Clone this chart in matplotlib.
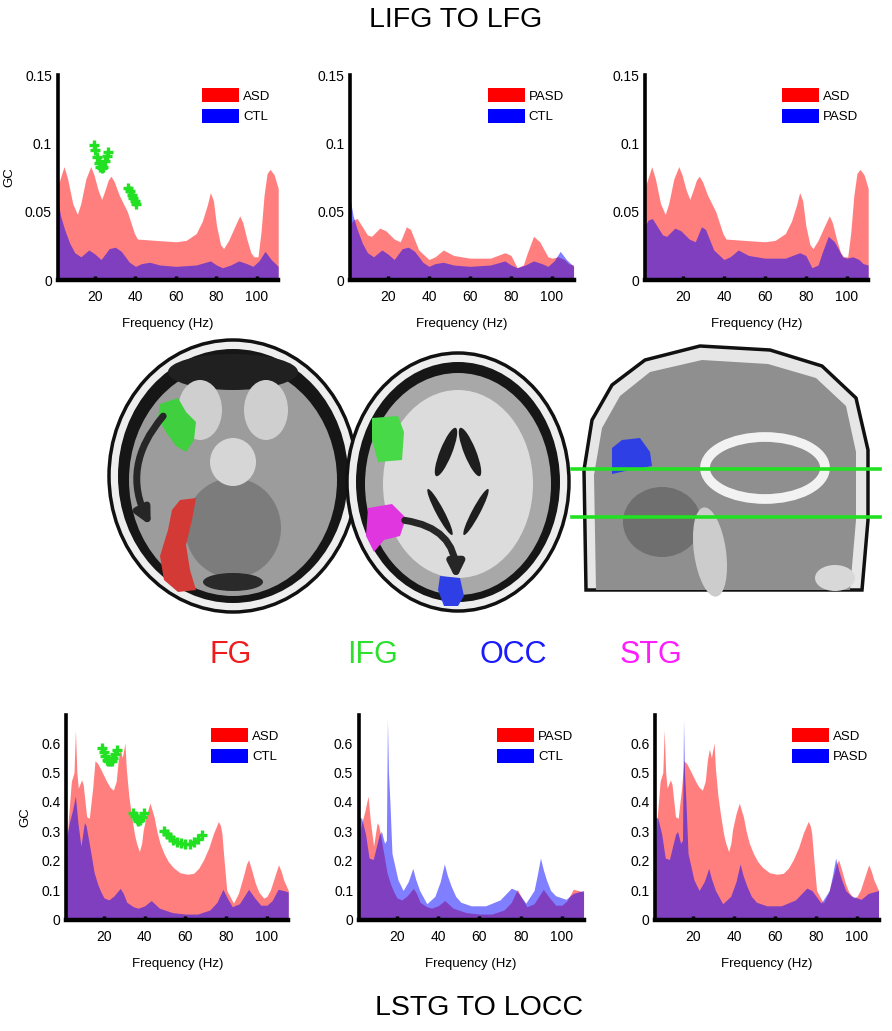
import matplotlib
matplotlib.use('Agg')
import matplotlib.pyplot as plt
from matplotlib.patches import Patch, Ellipse, Polygon, FancyArrowPatch

plt.rcParams['font.family'] = ['Liberation Sans', 'DejaVu Sans']

# ---- LIFG -> LFG (top row) ----
ifg_asd_f = [1.5, 4.7, 6.5, 9, 11.3, 13, 15.5, 17.9, 19.5, 21.5, 23.3, 25, 26.5, 27.9, 29.5, 32, 36, 39.5,
             41, 50, 60, 65, 70, 73, 75.5, 77, 78.5, 80, 82, 83.5, 86, 89, 91.5, 93, 95, 97, 98.5, 100.5,
             102, 103.5, 105, 106.5, 108.5, 110.5]
ifg_asd = [0.068, 0.083, 0.074, 0.056, 0.048, 0.056, 0.074, 0.083, 0.077, 0.066, 0.059, 0.066, 0.073, 0.076,
           0.072, 0.062, 0.050, 0.034, 0.030, 0.029, 0.028, 0.029, 0.034, 0.043, 0.055, 0.064, 0.058, 0.040,
           0.026, 0.023, 0.029, 0.039, 0.047, 0.042, 0.030, 0.020, 0.017, 0.017, 0.035, 0.062, 0.078, 0.081,
           0.077, 0.067]

ifg_ctl_f = [1.5, 3, 5, 7.5, 10, 13, 17, 20, 23, 27, 30, 33, 37, 40, 43, 47, 52, 60, 70, 77,
             80, 83, 87, 91, 95, 98, 101, 104, 107, 110.5]
ifg_ctl = [0.060, 0.047, 0.037, 0.027, 0.020, 0.017, 0.022, 0.019, 0.015, 0.023, 0.024, 0.021, 0.013, 0.010,
           0.012, 0.013, 0.011, 0.010, 0.011, 0.014, 0.011, 0.009, 0.011, 0.014, 0.012, 0.010, 0.014, 0.021,
           0.015, 0.010]

ifg_pasd_f = [1.5, 3, 5, 7.5, 10, 12, 16, 19, 23, 26, 29, 31, 35, 40, 43, 47, 52, 60, 70, 77,
              80, 83, 86, 88, 91, 94, 98, 100, 103, 106, 108, 110.5]
ifg_pasd = [0.040, 0.044, 0.045, 0.039, 0.033, 0.032, 0.038, 0.036, 0.030, 0.028, 0.039, 0.037, 0.022, 0.015,
            0.017, 0.022, 0.018, 0.016, 0.016, 0.020, 0.018, 0.009, 0.011, 0.020, 0.032, 0.028, 0.017, 0.016,
            0.017, 0.015, 0.012, 0.011]

ifg_sig_f = [19.5, 20.2, 21, 21.8, 22.6, 23.4, 24.2, 25, 25.8, 26.6, 36.5, 37.3, 38.1, 38.9, 39.7, 40.5]
ifg_sig = [0.099, 0.095, 0.090, 0.086, 0.083, 0.082, 0.083, 0.087, 0.091, 0.094,
           0.067, 0.065, 0.062, 0.060, 0.058, 0.056]

# ---- LSTG -> LOCC (bottom row) ----
stg_asd_f = [1.5, 2.5, 4, 5.3, 6, 6.7, 7.4, 9, 9.8, 11.5, 12.8, 14.5, 15.6, 17, 18.5, 21.3, 23, 24.6, 26, 27,
             28, 29, 30.3, 31, 32.2, 33.6, 35, 36, 37.4, 38.5, 39.3, 41, 42.6, 44.6, 46, 47.5, 49.5, 51.6,
             54, 57.4, 61, 64, 66.5, 68.9, 71.5, 73.8, 76.2, 77.2, 77.9, 79, 80.3, 83.6, 86, 88.5, 90, 91,
             92.5, 94.3, 96, 98.4, 100, 101.6, 103.5, 105.7, 107, 108.2, 110.5]
stg_asd = [0.20, 0.34, 0.47, 0.50, 0.645, 0.50, 0.447, 0.475, 0.46, 0.35, 0.345, 0.45, 0.54, 0.53, 0.51, 0.47,
           0.45, 0.44, 0.47, 0.54, 0.58, 0.55, 0.60, 0.51, 0.42, 0.35, 0.29, 0.26, 0.232, 0.26, 0.306, 0.36,
           0.396, 0.35, 0.30, 0.26, 0.225, 0.198, 0.178, 0.16, 0.155, 0.158, 0.175, 0.204, 0.245, 0.294,
           0.334, 0.32, 0.294, 0.20, 0.10, 0.057, 0.09, 0.15, 0.19, 0.204, 0.17, 0.125, 0.095, 0.074, 0.08,
           0.10, 0.14, 0.187, 0.165, 0.136, 0.10]

stg_ctl_f = [1.5, 3, 4.5, 6, 7.2, 8.7, 10.4, 11.2, 12.5, 14, 15.2, 17, 18.5, 20, 22.4, 25, 26.5, 28, 29.5, 31.2,
             34.4, 36.8, 40, 43.2, 47.2, 53.6, 60, 66, 72, 75.5, 78.4, 80.5, 83, 86.5, 91, 94, 97, 100,
             102.5, 105.5, 108, 110.5]
stg_ctl = [0.28, 0.33, 0.37, 0.42, 0.33, 0.25, 0.33, 0.32, 0.27, 0.21, 0.16, 0.12, 0.095, 0.075, 0.068, 0.082,
           0.095, 0.107, 0.09, 0.060, 0.045, 0.040, 0.048, 0.066, 0.040, 0.025, 0.020, 0.020, 0.034, 0.060,
           0.104, 0.075, 0.045, 0.055, 0.104, 0.075, 0.050, 0.050, 0.065, 0.104, 0.10, 0.095]

stg_pasd_f = [1.5, 2.9, 4.8, 6.5, 8.5, 11.5, 12.5, 14, 14.9, 15.4, 15.9, 16.6, 17.6, 20.5, 23, 25.5, 27.7, 29,
              31, 34.5, 38.4, 41, 43, 44.5, 46.4, 48.5, 51, 56, 63, 70, 75.5, 78, 82.5, 86.5, 88, 89.6, 91,
              92.5, 94.5, 97, 102, 105.5, 110.5]
stg_pasd = [0.35, 0.345, 0.29, 0.21, 0.205, 0.29, 0.30, 0.26, 0.27, 0.68, 0.50, 0.40, 0.226, 0.136, 0.10,
            0.13, 0.175, 0.14, 0.10, 0.055, 0.08, 0.13, 0.19, 0.15, 0.113, 0.08, 0.06, 0.048, 0.048, 0.068,
            0.108, 0.10, 0.057, 0.10, 0.15, 0.21, 0.17, 0.136, 0.10, 0.082, 0.07, 0.09, 0.10]

stg_sig_f = [18.9, 19.8, 20.6, 21.3, 22.1, 23, 23.8, 24.6, 25.4, 26.2, 34.4, 35.2, 36.1, 36.9, 37.8, 38.7,
             39.7, 49.5, 51, 52.5, 54, 56, 58, 59.8, 62, 64, 66, 68]
stg_sig = [0.583, 0.57, 0.556, 0.544, 0.54, 0.538, 0.538, 0.548, 0.562, 0.578, 0.362, 0.352, 0.342, 0.334,
           0.34, 0.35, 0.362, 0.30, 0.29, 0.28, 0.272, 0.265, 0.26, 0.258, 0.259, 0.266, 0.276, 0.289]

top_yticks = [0, 0.05, 0.1, 0.15]
top_ylabels = ['0', '0.05', '0.1', '0.15']
bot_yticks = [0, 0.1, 0.2, 0.3, 0.4, 0.5, 0.6]
bot_ylabels = ['0', '0.1', '0.2', '0.3', '0.4', '0.5', '0.6']
xticks = [20, 40, 60, 80, 100]

GREEN = '#22e022'

fig = plt.figure(figsize=(8.92, 10.31), dpi=100)


def gc_panel(rect, red, blue, labels, ylim, yticks, ylabels, leg_x, sig=None, gc=False):
    ax = fig.add_axes(rect)
    ax.fill_between(red[0], 0, red[1], color='red', alpha=0.5, lw=0)
    ax.fill_between(blue[0], 0, blue[1], color='blue', alpha=0.5, lw=0)
    if sig is not None:
        ax.plot(sig[0], sig[1], '+', color=GREEN, ms=7, mew=2.4)
    ax.set_xlim(1.5, 110.5)
    ax.set_ylim(*ylim)
    ax.set_xticks(xticks)
    ax.set_yticks(yticks)
    ax.set_yticklabels(ylabels)
    for s in ['top', 'right']:
        ax.spines[s].set_visible(False)
    ax.spines['left'].set_linewidth(2.6)
    ax.spines['bottom'].set_linewidth(3.2)
    ax.tick_params(axis='x', direction='in', length=3, width=2.5, pad=7, labelsize=10)
    ax.tick_params(axis='y', length=0, pad=4, labelsize=10)
    ax.set_xlabel('Frequency (Hz)', fontsize=9.5, labelpad=10)
    if gc:
        ax.set_ylabel('GC', fontsize=9.5, labelpad=7)
    handles = [Patch(facecolor='red', edgecolor='none'), Patch(facecolor='blue', edgecolor='none')]
    ax.legend(handles, labels, loc='upper left', bbox_to_anchor=(leg_x, 0.935), frameon=False,
              fontsize=9.5, handlelength=2.8, handleheight=1.2, labelspacing=0.5,
              handletextpad=0.3, borderpad=0, borderaxespad=0)
    return ax


top_b, bot_b, h = 0.7284, 0.1077, 0.1988
gc_panel([0.0645, top_b, 0.2474, h], (ifg_asd_f, ifg_asd), (ifg_ctl_f, ifg_ctl), ['ASD', 'CTL'],
         (0, 0.15), top_yticks, top_ylabels, 0.655, sig=(ifg_sig_f, ifg_sig), gc=True)
gc_panel([0.3924, top_b, 0.2506, h], (ifg_pasd_f, ifg_pasd), (ifg_ctl_f, ifg_ctl), ['PASD', 'CTL'],
         (0, 0.15), top_yticks, top_ylabels, 0.617)
gc_panel([0.7233, top_b, 0.2500, h], (ifg_asd_f, ifg_asd), (ifg_pasd_f, ifg_pasd), ['ASD', 'PASD'],
         (0, 0.15), top_yticks, top_ylabels, 0.614)

gc_panel([0.0743, bot_b, 0.2489, h], (stg_asd_f, stg_asd), (stg_ctl_f, stg_ctl), ['ASD', 'CTL'],
         (0, 0.695), bot_yticks, bot_ylabels, 0.652, sig=(stg_sig_f, stg_sig), gc=True)
gc_panel([0.4022, bot_b, 0.2520, h], (stg_ctl_f, stg_ctl), (stg_pasd_f, stg_pasd), ['PASD', 'CTL'],
         (0, 0.695), bot_yticks, bot_ylabels, 0.615)
gc_panel([0.7343, bot_b, 0.2506, h], (stg_asd_f, stg_asd), (stg_pasd_f, stg_pasd), ['ASD', 'PASD'],
         (0, 0.695), bot_yticks, bot_ylabels, 0.613)

# ---- brain sketch in the middle (pixel coordinates) ----
ill = fig.add_axes([0, 0, 1, 1], zorder=-1)
ill.set_xlim(0, 892)
ill.set_ylim(1031, 0)
ill.axis('off')

# axial slice, inferior
ill.add_patch(Ellipse((233, 476), 248, 272, fc='#eeeeee', ec='#111111', lw=2.5))
ill.add_patch(Ellipse((233, 476), 230, 254, fc='#161616'))
ill.add_patch(Ellipse((233, 480), 208, 232, fc='#9c9c9c'))
ill.add_patch(Ellipse((233, 372), 130, 36, fc='#202020'))
ill.add_patch(Ellipse((200, 410), 44, 60, fc='#cfcfcf'))
ill.add_patch(Ellipse((266, 410), 44, 60, fc='#cfcfcf'))
ill.add_patch(Ellipse((233, 528), 96, 100, fc='#7c7c7c'))
ill.add_patch(Ellipse((233, 462), 46, 48, fc='#d6d6d6'))
ill.add_patch(Ellipse((233, 582), 60, 18, fc='#2a2a2a'))
ill.add_patch(Polygon([(160, 404), (178, 398), (186, 412), (196, 422), (194, 440), (186, 452),
                       (176, 446), (166, 432), (158, 418)], closed=True, fc='#3fcf3f', ec='none'))
ill.add_patch(Polygon([(180, 500), (196, 498), (192, 520), (186, 545), (190, 570), (196, 590),
                       (178, 592), (164, 580), (160, 556), (168, 530), (172, 510)],
                      closed=True, fc='#d33a36', ec='none'))
ill.add_patch(FancyArrowPatch((165, 414), (152, 528), connectionstyle='arc3,rad=0.35',
                              arrowstyle='-|>', mutation_scale=22, lw=5, color='#262626'))

# axial slice, superior
ill.add_patch(Ellipse((458, 482), 222, 258, fc='#eeeeee', ec='#111111', lw=2.5))
ill.add_patch(Ellipse((458, 482), 204, 240, fc='#161616'))
ill.add_patch(Ellipse((458, 484), 186, 222, fc='#a8a8a8'))
ill.add_patch(Ellipse((458, 484), 150, 188, fc='#dcdcdc'))
ill.add_patch(Ellipse((446, 452), 12, 52, angle=22, fc='#1e1e1e'))
ill.add_patch(Ellipse((470, 452), 12, 52, angle=-22, fc='#1e1e1e'))
ill.add_patch(Ellipse((440, 512), 8, 52, angle=-28, fc='#1e1e1e'))
ill.add_patch(Ellipse((476, 512), 8, 52, angle=28, fc='#1e1e1e'))
ill.add_patch(Polygon([(372, 418), (398, 416), (404, 432), (402, 460), (378, 462), (372, 440)],
                      closed=True, fc='#47d947', ec='none'))
ill.add_patch(Polygon([(368, 508), (392, 504), (406, 518), (400, 536), (384, 540), (374, 552),
                       (366, 536)], closed=True, fc='#e036e0', ec='none'))
ill.add_patch(Polygon([(440, 576), (460, 578), (464, 596), (458, 606), (444, 606), (438, 590)],
                      closed=True, fc='#2f3fe6', ec='none'))
ill.add_patch(FancyArrowPatch((402, 520), (456, 582), connectionstyle='arc3,rad=-0.45',
                              arrowstyle='-|>', mutation_scale=22, lw=5, color='#262626'))

# sagittal slice
sag = [(586, 590), (584, 470), (592, 420), (612, 385), (645, 360), (700, 346), (770, 350), (822, 366),
       (856, 398), (868, 450), (868, 520), (862, 590)]
ill.add_patch(Polygon(sag, closed=True, fc='#e6e6e6', ec='#111111', lw=2.5))
sag_in = [(596, 590), (594, 475), (602, 428), (620, 396), (650, 372), (702, 360), (768, 364),
          (816, 378), (846, 406), (856, 452), (856, 520), (850, 590)]
ill.add_patch(Polygon(sag_in, closed=True, fc='#8f8f8f', ec='none'))
ill.add_patch(Ellipse((765, 468), 120, 62, fc='none', ec='#f2f2f2', lw=7))
ill.add_patch(Ellipse((662, 522), 78, 70, fc='#6f6f6f'))
ill.add_patch(Ellipse((710, 552), 32, 90, angle=-8, fc='#cccccc'))
ill.add_patch(Ellipse((835, 578), 40, 26, fc='#d8d8d8'))
ill.add_patch(Polygon([(612, 448), (622, 440), (640, 438), (650, 452), (652, 466), (630, 470),
                       (612, 474)], closed=True, fc='#2f3fe6', ec='none'))
ill.plot([572, 880], [469, 469], color=GREEN, lw=2.6)
ill.plot([572, 880], [517, 517], color=GREEN, lw=2.6)

# region names and row titles
for name, x, c in [('FG', 231, '#ee1c1c'), ('IFG', 373, '#2ee02e'), ('OCC', 513, '#1a1aff'),
                   ('STG', 651, '#ff1cff')]:
    ill.text(x, 655, name, color=c, fontsize=22, ha='center', va='center')
ill.text(456, 20, 'LIFG TO LFG', fontsize=20.5, ha='center', va='center')
ill.text(479, 1008, 'LSTG TO LOCC', fontsize=20.5, ha='center', va='center')

fig.savefig('out.png', dpi=100)
